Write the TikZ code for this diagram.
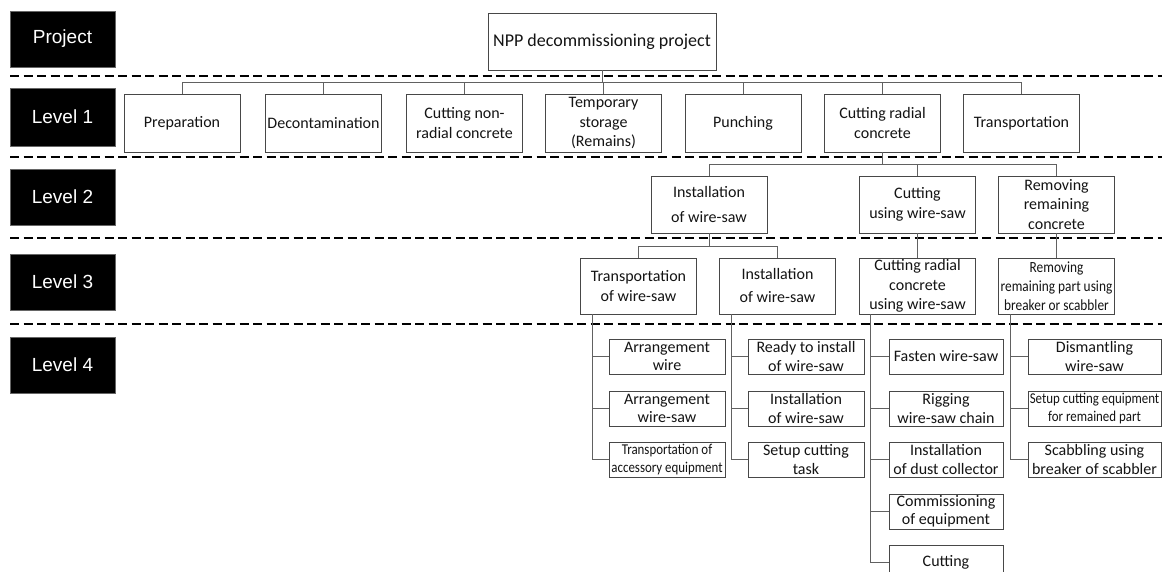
\documentclass[tikz,border=0pt]{standalone}
\usepackage{fontspec}
\setmainfont{Carlito}
\newfontfamily\lblfont{Liberation Sans}
\newfontfamily\narrowfont[FakeStretch=0.86]{Carlito}
\usetikzlibrary{calc}
\begin{document}
\begin{tikzpicture}[x=1pt,y=-1pt,
  lbl/.style={fill=black, draw=black!60, line width=0.6pt, minimum width=105pt, minimum height=56pt, inner sep=0pt, text=white, font=\lblfont\fontsize{19}{22}\selectfont},
  box/.style={draw=black!72, fill=white, line width=0.9pt, inner sep=0pt, align=center, text=black!92, font=\fontsize{16}{19.5}\selectfont, minimum height=58pt, minimum width=116pt},
  lv2/.style={box, minimum height=57pt},
  lv3/.style={box, minimum height=56pt},
  lv4/.style={box, minimum height=35pt, font=\fontsize{16}{18.5}\selectfont},
  narrow/.style={font=\narrowfont\fontsize{15}{17.5}\selectfont},
  conn/.style={draw=black!62, line width=0.9pt},
  sep/.style={draw=black, line width=1.8pt, dash pattern=on 9pt off 4.5pt},
]
\useasboundingbox (0,0) rectangle (1162,572);

% separators
\foreach \yy in {76,157,238,324} \draw[sep] (10,\yy) -- (1162,\yy);

% level labels
\node[lbl] (lp) at (62.5,39) {Project};
\node[lbl, minimum height=58pt] (lv1) at (62.5,117) {Level 1};
\node[lbl] (lvb) at (62.5,197) {Level 2};
\node[lbl] (lvc) at (62.5,282) {Level 3};
\node[lbl] (lvd) at (62.5,365) {Level 4};

% project
\node[box, minimum width=228pt, minimum height=57pt, font=\fontsize{18}{22}\selectfont] (npp) at (602,41.5) {NPP decommissioning project};

% level 1
\node[box] (a1) at (182,123) {Preparation};
\node[box] (a2) at (323.5,123) {Decontamination};
\node[box] (a3) at (464.5,123) {Cutting non-\\radial concrete};
\node[box] (a4) at (603.5,123) {Temporary\\storage\\(Remains)};
\node[box] (a5) at (743,123) {Punching};
\node[box] (a6) at (882.5,123) {Cutting radial\\concrete};
\node[box] (a7) at (1021.5,123) {Transportation};

% level 2
\node[lv2, font=\fontsize{16}{25}\selectfont] (b1) at (709,204.5) {Installation\\of wire-saw};
\node[lv2] (b2) at (917.5,204.5) {Cutting\\using wire-saw};
\node[lv2] (b3) at (1056.5,204.5) {Removing\\remaining\\concrete};

% level 3
\node[lv3] (c1) at (638.5,286) {Transportation\\of wire-saw};
\node[lv3, font=\fontsize{16}{23}\selectfont] (c2) at (777.5,286) {Installation\\of wire-saw};
\node[lv3] (c3) at (917.5,286) {Cutting radial\\concrete\\using wire-saw};
\node[lv3, narrow, font=\narrowfont\fontsize{15.5}{19}\selectfont] (c4) at (1056.5,286) {Removing\\remaining part using\\breaker or scabbler};

% level 4
\node[lv4] (d1) at (667,356.5) {Arrangement\\wire};
\node[lv4] (d2) at (667,408.5) {Arrangement\\wire-saw};
\node[lv4, narrow] (d3) at (667,459.5) {Transportation of\\accessory equipment};

\node[lv4] (e1) at (806,356.5) {Ready to install\\of wire-saw};
\node[lv4] (e2) at (806,408.5) {Installation\\of wire-saw};
\node[lv4] (e3) at (806,459.5) {Setup cutting\\task};

\node[lv4, minimum width=114pt] (f1) at (946,356.5) {Fasten wire-saw};
\node[lv4, minimum width=114pt] (f2) at (946,408.5) {Rigging\\wire-saw chain};
\node[lv4, minimum width=114pt] (f3) at (946,459.5) {Installation\\of dust collector};
\node[lv4, minimum width=114pt] (f4) at (946,511.5) {Commissioning\\of equipment};
\node[lv4, minimum width=114pt] (f5) at (946,562.5) {Cutting};

\node[lv4, minimum width=133pt] (g1) at (1094.5,356.5) {Dismantling\\wire-saw};
\node[lv4, minimum width=133pt, narrow] (g2) at (1094.5,408.5) {Setup cutting equipment\\for remained part};
\node[lv4, minimum width=133pt] (g3) at (1094.5,459.5) {Scabbling using\\breaker of scabbler};

% connectors
\coordinate (bus1) at (0,82);
\coordinate (bus2) at (0,164);
\coordinate (bus3) at (0,246);
\foreach \n in {a1,a2,a3,a4,a5,a6,a7}
  \draw[conn] (npp.south) |- (bus1 -| \n.north) -- (\n.north);
\foreach \n in {b1,b2,b3}
  \draw[conn] (a6.south) |- (bus2 -| \n.north) -- (\n.north);
\foreach \n in {c1,c2}
  \draw[conn] (b1.south) |- (bus3 -| \n.north) -- (\n.north);
\draw[conn] (b2.south) -- (c3.north);
\draw[conn] (b3.south) -- (c4.north);

\foreach \n in {d1,d2,d3}
  \draw[conn] ($(c1.south west)+(12,0)$) |- (\n.west);
\foreach \n in {e1,e2,e3}
  \draw[conn] ($(c2.south west)+(12,0)$) |- (\n.west);
\foreach \n in {f1,f2,f3,f4,f5}
  \draw[conn] ($(c3.south west)+(11,0)$) |- (\n.west);
\foreach \n in {g1,g2,g3}
  \draw[conn] ($(c4.south west)+(12,0)$) |- (\n.west);
\end{tikzpicture}
\end{document}
